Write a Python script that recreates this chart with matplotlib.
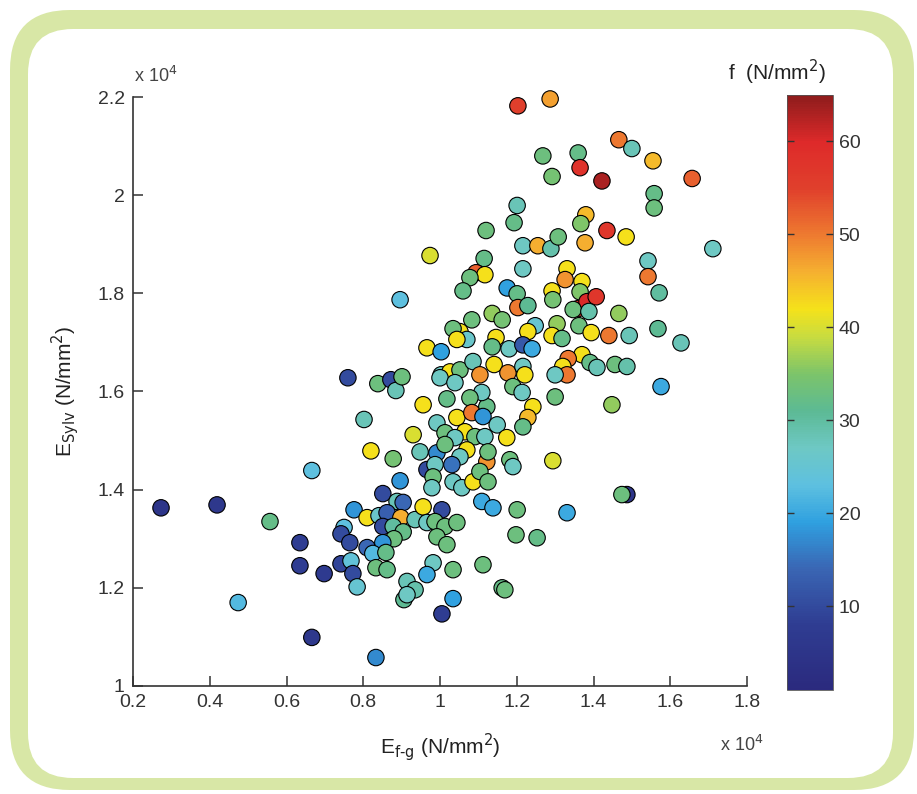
import matplotlib
matplotlib.use("Agg")
import matplotlib.pyplot as plt
from matplotlib.colors import LinearSegmentedColormap, Normalize
from matplotlib.patches import FancyBboxPatch
from matplotlib.ticker import FuncFormatter
import numpy as np

# ---------------------------------------------------------
# Data (E in N/mm^2, f in N/mm^2)
# ---------------------------------------------------------
e_fg = [
    12030, 12870, 14660, 15000, 15550, 12680, 13600, 13650, 14220, 16570,
    12920, 15580, 15580, 12010, 11930, 13800, 13670, 14350, 14850, 11200,
    12160, 12550, 12890, 13080, 13780, 17110, 9740, 11150, 10940, 11170,
    10780, 12160, 15420, 15420, 13310, 13260, 13700, 13650, 11750, 12010,
    10600, 12030, 12290, 12920, 12940, 13600, 13830, 14070, 13470, 13880,
    15710, 14660, 15680, 16280, 11360, 11620, 10830, 12480, 12290, 13050,
    12920, 13180, 13620, 13940, 14400, 14930, 10520, 10700, 10340, 10440,
    9660, 10030, 11460, 11360, 11800, 12160, 12400, 13700, 13910, 14090,
    14560, 14870, 13340, 13200, 13310, 10030, 10260, 10520, 10860, 11410,
    11040, 11770, 12160, 12210, 13000, 8960, 7600, 8380, 8720, 8850,
    9010, 8020, 8200, 8780, 9300, 9480, 8960, 6660, 2730, 4190,
    5570, 6350, 6350, 6980, 4740, 6660, 8330, 8510, 8880, 9040,
    7760, 8100, 8410, 8620, 8510, 8980, 9350, 7500, 7420, 7650,
    8780, 9040, 8800, 8510, 8100, 8250, 8590, 7420, 7680, 7730,
    7840, 8330, 8620, 9140, 9350, 9060, 11220, 10000, 10390, 11090,
    10780, 9560, 10180, 10440, 10830, 11120, 9920, 12420, 12290, 11490,
    12160, 11900, 12140, 13000, 14480, 10650, 10130, 10390, 10910, 9920,
    10130, 10700, 10520, 11220, 9660, 10310, 9870, 9820, 9790, 10340,
    10570, 10860, 11040, 9560, 10050, 9660, 9870, 10130, 10440, 9920,
    10180, 9820, 9660, 10340, 11120, 9140, 10340, 11740, 11170, 11250,
    11250, 11820, 11900, 12940, 14870, 14740, 11090, 11380, 12010, 13310,
    11980, 12530, 11620, 11690, 10050, 15760,
]

e_sylv = [
    21820, 21960, 21130, 20950, 20700, 20800, 20860, 20560, 20290, 20340,
    20380, 20030, 19740, 19790, 19440, 19600, 19420, 19280, 19150, 19280,
    18970, 18970, 18910, 19150, 19030, 18910, 18770, 18710, 18420, 18380,
    18320, 18500, 18660, 18340, 18500, 18280, 18240, 18030, 18110, 17990,
    18050, 17710, 17750, 18050, 17870, 17690, 17830, 17930, 17670, 17630,
    18010, 17590, 17280, 16990, 17590, 17460, 17460, 17340, 17220, 17380,
    17140, 17080, 17340, 17200, 17140, 17140, 17220, 17060, 17280, 17060,
    16890, 16810, 17100, 16910, 16870, 16950, 16870, 16750, 16590, 16490,
    16550, 16510, 16670, 16510, 16340, 16340, 16400, 16440, 16610, 16550,
    16340, 16380, 16510, 16340, 16340, 17870, 16280, 16160, 16240, 16020,
    16300, 15430, 14790, 14630, 15120, 14770, 14180, 14390, 13630, 13690,
    13350, 12920, 12450, 12290, 11700, 10990, 10580, 13920, 13760, 13740,
    13590, 13430, 13470, 13530, 13250, 13430, 13390, 13230, 13100, 12920,
    13250, 13140, 13000, 12920, 12820, 12700, 12720, 12490, 12550, 12290,
    12020, 12410, 12370, 12130, 11960, 11760, 15690, 16280, 16180, 15980,
    15870, 15730, 15850, 15470, 15570, 15490, 15360, 15690, 15470, 15320,
    15280, 16100, 15980, 15890, 15730, 15180, 15160, 15060, 15080, 14750,
    14920, 14810, 14670, 14570, 14410, 14510, 14510, 14260, 14040, 14160,
    14040, 14160, 14370, 13650, 13590, 13330, 13350, 13250, 13330, 13040,
    12880, 12510, 12270, 12370, 12470, 11860, 11780, 15060, 15080, 14770,
    14160, 14610, 14470, 14590, 13900, 13900, 13760, 13630, 13590, 13530,
    13080, 13020, 12000, 11960, 11470, 16100,
]

f_strength = [
    55, 47, 50, 28, 45, 33, 32, 58, 63, 52,
    34, 32, 33, 28, 32, 45, 35, 57, 42, 33,
    27, 46, 29, 33, 46, 27, 40, 32, 52, 42,
    33, 27, 27, 50, 42, 48, 42, 35, 19, 32,
    32, 50, 31, 42, 34, 58, 60, 57, 33, 29,
    30, 36, 31, 28, 36, 34, 33, 25, 42, 36,
    42, 32, 33, 42, 50, 28, 42, 26, 33, 42,
    42, 19, 42, 32, 27, 12, 20, 42, 32, 28,
    33, 29, 50, 42, 50, 27, 42, 33, 28, 42,
    48, 48, 27, 42, 27, 23, 10, 33, 10, 28,
    33, 28, 42, 34, 40, 28, 18, 23, 5, 6,
    32, 8, 8, 7, 22, 6, 17, 10, 28, 14,
    18, 42, 26, 13, 10, 46, 28, 23, 10, 10,
    30, 32, 33, 18, 14, 22, 32, 9, 24, 10,
    25, 33, 32, 28, 29, 31, 32, 27, 27, 27,
    33, 42, 32, 42, 50, 18, 27, 42, 45, 27,
    32, 33, 27, 33, 36, 42, 33, 27, 33, 17,
    33, 42, 27, 48, 10, 15, 27, 33, 27, 27,
    27, 42, 33, 42, 10, 27, 33, 33, 33, 33,
    33, 27, 20, 33, 33, 27, 19, 42, 27, 33,
    33, 33, 27, 40, 5, 33, 20, 20, 33, 20,
    33, 32, 32, 33, 8, 20,
]

x_ticks = [2000, 4000, 6000, 8000, 10000, 12000, 14000, 16000, 18000]
y_ticks = [10000, 12000, 14000, 16000, 18000, 20000, 22000]
cbar_ticks = [10, 20, 30, 40, 50, 60]

# ---------------------------------------------------------
# jet-like colour map sampled from the reference colour bar
# ---------------------------------------------------------
f_min, f_max = 1, 65
cmap_stops = [
    (1, "#2b2a7e"), (8, "#2f3d92"), (14, "#3a66b4"), (19, "#2fa0e0"),
    (23, "#5ec0e0"), (27, "#6ec8c4"), (31, "#5cba94"), (35, "#7cc46a"),
    (39, "#c8dc40"), (42, "#f5e21a"), (46, "#f5b030"), (50, "#ee7a30"),
    (55, "#e0402c"), (60, "#de2a2a"), (65, "#8e1c1c"),
]
cmap = LinearSegmentedColormap.from_list(
    "ref_jet",
    [((v - f_min) / (f_max - f_min), c) for v, c in cmap_stops],
)

plt.rcParams["font.family"] = ["Liberation Sans", "DejaVu Sans"]

W, H = 917, 794
fig = plt.figure(figsize=(W / 100, H / 100), dpi=100)

# ---------------------------------------------------------
# rounded green frame (pixel coordinates)
# ---------------------------------------------------------
bg = fig.add_axes([0, 0, 1, 1], zorder=-10)
bg.set_xlim(0, W)
bg.set_ylim(H, 0)
bg.axis("off")
bg.add_patch(FancyBboxPatch((10, 10), 904, 780,
                            boxstyle="round,pad=0,rounding_size=60",
                            facecolor="#d8e7a6", edgecolor="none"))
bg.add_patch(FancyBboxPatch((28, 29), 865, 749,
                            boxstyle="round,pad=0,rounding_size=45",
                            facecolor="white", edgecolor="none"))

# ---------------------------------------------------------
# scatter
# ---------------------------------------------------------
ax = fig.add_axes([133 / W, 1 - 686 / H, 614 / W, 589 / H])
ax.set_facecolor("none")
norm = Normalize(vmin=f_min, vmax=f_max)
sc = ax.scatter(e_fg, e_sylv, c=f_strength, cmap=cmap, norm=norm,
                s=140, edgecolors="black", linewidths=0.8, zorder=3,
                clip_on=False)

ax.set_xlim(2000, 18000)
ax.set_ylim(10000, 22000)
ax.set_xticks(x_ticks)
ax.set_yticks(y_ticks)
fmt = FuncFormatter(lambda v, _: f"{v / 1e4:g}")
ax.xaxis.set_major_formatter(fmt)
ax.yaxis.set_major_formatter(fmt)

for side in ("top", "right"):
    ax.spines[side].set_visible(False)
for side in ("left", "bottom"):
    ax.spines[side].set_color("#333333")
    ax.spines[side].set_linewidth(1.2)
ax.tick_params(direction="in", length=7, width=1.1, color="#333333",
               labelsize=14, labelcolor="#333333", pad=6)

ax.set_xlabel(r"E$_{\mathrm{f\text{-}g}}$ (N/mm$^2$)", fontsize=15,
              color="#222222", labelpad=14)
ax.set_ylabel(r"E$_{\mathrm{Sylv}}$ (N/mm$^2$)", fontsize=15,
              color="#222222", labelpad=12)

fig.text(134 / W, 1 - 76 / H, r"x 10$^4$", fontsize=13, color="#444444",
         ha="left", va="center")
fig.text(720 / W, 1 - 745 / H, r"x 10$^4$", fontsize=13, color="#444444",
         ha="left", va="center")

# ---------------------------------------------------------
# colour bar
# ---------------------------------------------------------
cax = fig.add_axes([787 / W, 1 - 690 / H, 46 / W, 595 / H])
cb = fig.colorbar(sc, cax=cax, ticks=cbar_ticks)
cb.outline.set_linewidth(0.6)
cb.outline.set_edgecolor("#555555")
cax.tick_params(direction="in", left=True, right=True, length=5,
                width=1.0, color="#333333", labelsize=14,
                labelcolor="#333333", pad=4)

fig.text(777 / W, 1 - 72 / H, r"f  (N/mm$^2$)", fontsize=15,
         color="#222222", ha="center", va="center")

fig.savefig("out.png", dpi=100)
plt.close(fig)
